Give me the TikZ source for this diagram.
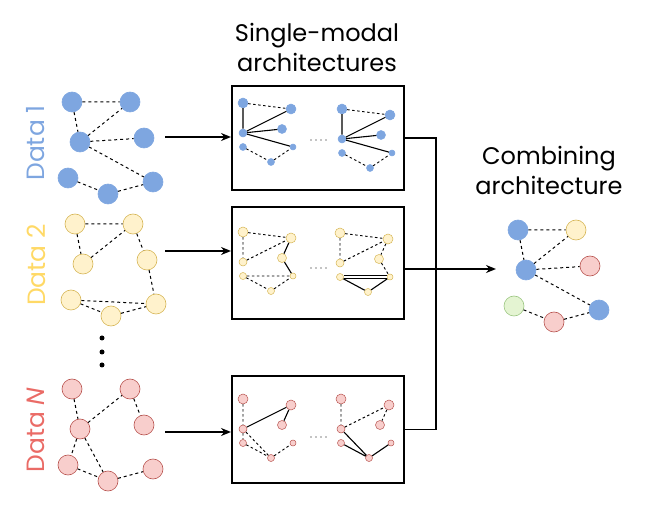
\documentclass[tikz,border=0pt]{standalone}
\usepackage{fontspec}
\setmainfont{Poppins}
\usetikzlibrary{arrows.meta}
\definecolor{bluef}{HTML}{7EA6E0}
\definecolor{yelf}{HTML}{FFF2CC}
\definecolor{yels}{HTML}{D6B656}
\definecolor{redf}{HTML}{F8CECC}
\definecolor{reds}{HTML}{B85450}
\definecolor{grnf}{HTML}{E4F4D2}
\definecolor{grns}{HTML}{9CC682}
\definecolor{bluet}{HTML}{7EA6E0}
\definecolor{yelt}{HTML}{FFD966}
\definecolor{redt}{HTML}{EA6B66}
\tikzset{
  bnode/.style={circle, inner sep=0pt, minimum size=20pt, line width=0.6pt},
  snode/.style={circle, inner sep=0pt, line width=0.5pt},
  bl/.style={fill=bluef, draw=bluef},
  yl/.style={fill=yelf, draw=yels},
  rd/.style={fill=redf, draw=reds},
  gr/.style={fill=grnf, draw=grns},
  bdash/.style={dash pattern=on 3pt off 3pt, line width=1pt},
  sdash/.style={dash pattern=on 2.5pt off 2.5pt, line width=0.9pt},
  ssolid/.style={line width=1.1pt},
  sdouble/.style={double, double distance=1.3pt, line width=0.9pt},
  boxst/.style={draw, line width=1.8pt, anchor=north west, minimum width=172pt},
  conn/.style={line width=1.6pt},
  arr/.style={conn, -{Stealth[length=10pt,width=8pt]}},
  tdot/.style={circle, fill=black, inner sep=0pt, minimum size=1.3pt},
  vdot/.style={circle, fill=black, inner sep=0pt, minimum size=5pt},
  title/.style={font=\fontsize{24}{30}\selectfont, align=center},
  dlabel/.style={font=\fontsize{25}{30}\selectfont, rotate=90},
}
\newcommand\bgraph[8]{%
  \node[bnode,#2] (#1A) at (0,0) {};
  \node[bnode,#3] (#1B) at (58,0) {};
  \node[bnode,#4] (#1C) at (8,40) {};
  \node[bnode,#5] (#1D) at (72,36) {};
  \node[bnode,#6] (#1E) at (-4,76) {};
  \node[bnode,#7] (#1F) at (36,92) {};
  \node[bnode,#8] (#1G) at (81,80) {};}
\newcommand\sgraph[2]{%
  \node[snode,minimum size=10pt,#2] (#1a) at (0,0) {};
  \node[snode,minimum size=10pt,#2] (#1b) at (48,6) {};
  \node[snode,minimum size=8pt,#2] (#1c) at (0,30) {};
  \node[snode,minimum size=9pt,#2] (#1d) at (39,26) {};
  \node[snode,minimum size=7pt,#2] (#1e) at (0,44) {};
  \node[snode,minimum size=6pt,#2] (#1f) at (50,44) {};
  \node[snode,minimum size=7pt,#2] (#1g) at (28,59) {};}
\begin{document}
\begin{tikzpicture}[x=1pt,y=-1pt]
\useasboundingbox (0,0) rectangle (665,505);

% titles
\node[title] (t1) at (317,47) {Single-modal\\architectures};
\node[title] (t2) at (549,170) {Combining\\architecture};

% data labels
\node[dlabel, text=bluet] (l1) at (36,143) {Data 1};
\node[dlabel, text=yelt] (l2) at (36,265) {Data 2};
\node[dlabel, text=redt] (l3) at (36,430) {Data \textit{N}};

% big graphs
\begin{scope}[shift={(72,102)}]\bgraph{g}{bl}{bl}{bl}{bl}{bl}{bl}{bl}\end{scope}
\begin{scope}[shift={(75,224)}]\bgraph{h}{yl}{yl}{yl}{yl}{yl}{yl}{yl}\end{scope}
\begin{scope}[shift={(72,389)}]\bgraph{k}{rd}{rd}{rd}{rd}{rd}{rd}{rd}\end{scope}
\begin{scope}[shift={(518,230)}]\bgraph{m}{bl}{yl}{bl}{rd}{gr}{rd}{bl}\end{scope}

\draw[bdash] (gA)--(gB) (gA)--(gC) (gC)--(gB) (gC)--(gD) (gC)--(gG) (gE)--(gF) (gF)--(gG);
\draw[bdash] (hA)--(hB) (hA)--(hC) (hC)--(hB) (hB)--(hD) (hD)--(hG) (hE)--(hG) (hE)--(hF) (hF)--(hG);
\draw[bdash] (kA)--(kC) (kC)--(kB) (kB)--(kD) (kC)--(kE) (kC)--(kF) (kE)--(kF) (kF)--(kG);
\draw[bdash] (mA)--(mB) (mA)--(mC) (mC)--(mB) (mC)--(mD) (mC)--(mG) (mE)--(mF) (mF)--(mG);

% vertical dots
\node[vdot] (v1) at (102,338) {};
\node[vdot] (v2) at (102,352) {};
\node[vdot] (v3) at (102,365) {};

% boxes
\node[boxst, minimum height=104pt] (box1) at (231,85) {};
\node[boxst, minimum height=112pt] (box2) at (231,206) {};
\node[boxst, minimum height=107pt] (box3) at (231,375) {};

% small graphs
\begin{scope}[shift={(243,103)}]\sgraph{pa}{bl}\end{scope}
\begin{scope}[shift={(342,109)}]\sgraph{pb}{bl}\end{scope}
\begin{scope}[shift={(243,232)}]\sgraph{qa}{yl}\end{scope}
\begin{scope}[shift={(340,233)}]\sgraph{qb}{yl}\end{scope}
\begin{scope}[shift={(243,399)}]\sgraph{ra}{rd}\end{scope}
\begin{scope}[shift={(341,399)}]\sgraph{rb}{rd}\end{scope}

% box 1 edges
\draw[sdash] (paa)--(pab) (pae)--(pag) (pag)--(paf);
\draw[ssolid] (paa)--(pac) (pac)--(pab) (pac)--(pad) (pac)--(paf);
\draw[sdash] (pba)--(pbb) (pbe)--(pbg) (pbg)--(pbf);
\draw[ssolid] (pba)--(pbc) (pbc)--(pbb) (pbc)--(pbd) (pbc)--(pbf);
% box 2 edges
\draw[sdash] (qaa)--(qab) (qaa)--(qac) (qac)--(qab) (qae)--(qaf) (qae)--(qag) (qag)--(qaf);
\draw[ssolid] (qab)--(qad) (qad)--(qaf);
\draw[sdash] (qba)--(qbb) (qba)--(qbc) (qbc)--(qbb) (qbb)--(qbd) (qbd)--(qbf);
\draw[ssolid] (qbe)--(qbg) (qbg)--(qbf);
\draw[sdouble] (qbe)--(qbf);
% box 3 edges
\draw[sdash] (raa)--(rac) (rac)--(rae) (rac)--(rag) (rae)--(rag) (rag)--(raf);
\draw[ssolid] (rac)--(rab) (rab)--(rad);
\draw[sdash] (rba)--(rbc) (rbc)--(rbb) (rbb)--(rbd);
\draw[ssolid] (rbc)--(rbg) (rbe)--(rbg) (rbg)--(rbf);

% ellipsis dots inside boxes
\foreach \i/\y in {1/140, 2/268, 3/437}{
  \foreach \j in {0,1,2,3}{
    \node[tdot] (e\i-\j) at (311+5*\j, \y) {};
  }
}

% connectors
\coordinate (s1) at (165,137);
\coordinate (s2) at (165,251);
\coordinate (s3) at (165,432);
\coordinate (o2) at (403,269);
\coordinate (tgt) at (496,269);
\draw[arr] (s1) -- (s1 -| box1.west);
\draw[arr] (s2) -- (s2 -| box2.west);
\draw[arr] (s3) -- (s3 -| box3.west);
\draw[conn] (box1.east) -- ++(31,0) |- (box3.east);
\draw[arr] (o2 -| box2.east) -- (tgt);
\end{tikzpicture}
\end{document}
